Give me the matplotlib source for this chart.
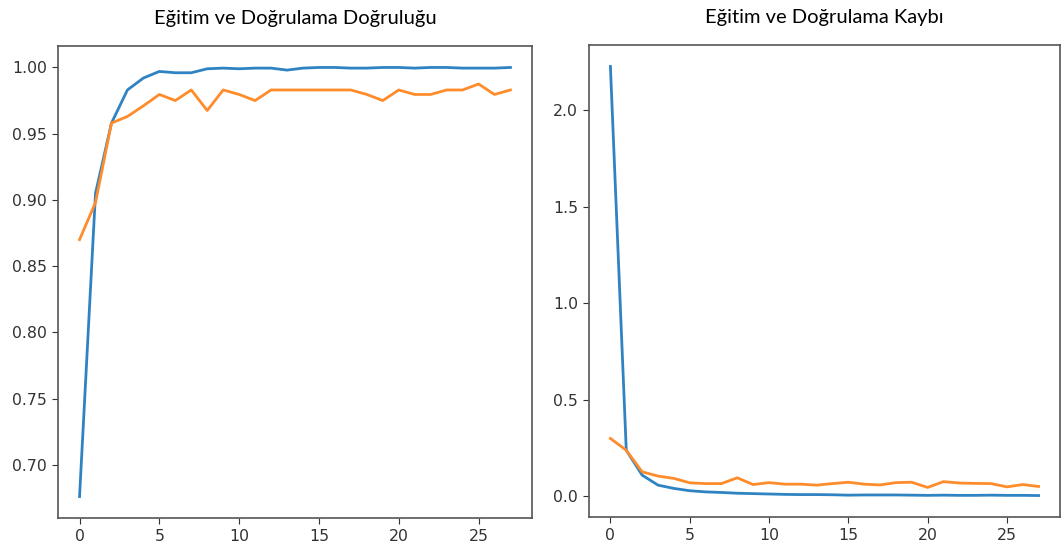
import numpy as np
import matplotlib
matplotlib.use("Agg")
import matplotlib.pyplot as plt

plt.rcParams['font.family'] = ['DejaVu Sans']

epochs = list(range(28))

train_acc = [0.676, 0.905, 0.958, 0.983, 0.992, 0.997, 0.996, 0.996, 0.999, 0.9995,
             0.999, 0.9995, 0.9995, 0.998, 0.9995, 1.0, 1.0, 0.9995, 0.9995, 1.0,
             1.0, 0.9995, 1.0, 1.0, 0.9995, 0.9995, 0.9995, 1.0]
val_acc = [0.870, 0.898, 0.958, 0.963, 0.971, 0.9796, 0.975, 0.983, 0.9675, 0.983,
           0.9796, 0.975, 0.983, 0.983, 0.983, 0.983, 0.983, 0.983, 0.9796, 0.975,
           0.983, 0.9796, 0.9796, 0.983, 0.983, 0.9875, 0.9796, 0.983]

train_loss = [2.228, 0.238, 0.109, 0.057, 0.040, 0.028, 0.022, 0.019, 0.015, 0.013,
              0.011, 0.009, 0.008, 0.008, 0.007, 0.005, 0.006, 0.006, 0.006, 0.005,
              0.004, 0.005, 0.004, 0.004, 0.005, 0.004, 0.004, 0.003]
val_loss = [0.299, 0.238, 0.126, 0.104, 0.092, 0.069, 0.065, 0.065, 0.095, 0.060,
            0.070, 0.062, 0.062, 0.057, 0.065, 0.072, 0.062, 0.058, 0.070, 0.072,
            0.045, 0.075, 0.068, 0.066, 0.065, 0.048, 0.060, 0.050]

titles = ['Eğitim ve Doğrulama Doğruluğu', 'Eğitim ve Doğrulama Kaybı']

fig = plt.figure(figsize=(10.63, 5.56), dpi=100)
ax1 = fig.add_axes([58/1063, 1 - 518/556, (532-58)/1063, (518-46)/556])
ax2 = fig.add_axes([589/1063, 1 - 517/556, (1060-589)/1063, (517-45)/556])

for ax, tr, va, t in [(ax1, train_acc, val_acc, titles[0]),
                      (ax2, train_loss, val_loss, titles[1])]:
    ax.plot(epochs, tr, color='#2f83c2', lw=2.0)
    ax.plot(epochs, va, color='#ff8c2a', lw=2.0)
    ax.set_title(t, family='Lato', fontsize=14.5, pad=16)
    for s in ax.spines.values():
        s.set_color('#555555')
        s.set_linewidth(1.2)
    ax.tick_params(labelsize=11.3, colors='#333333', length=4.5)

ax1.set_yticks([0.70, 0.75, 0.80, 0.85, 0.90, 0.95, 1.00])
ax1.set_yticklabels(['0.70', '0.75', '0.80', '0.85', '0.90', '0.95', '1.00'])
ax2.set_yticks([0.0, 0.5, 1.0, 1.5, 2.0])
ax1.set_xticks([0, 5, 10, 15, 20, 25])
ax2.set_xticks([0, 5, 10, 15, 20, 25])

fig.savefig('out.png', dpi=100)
